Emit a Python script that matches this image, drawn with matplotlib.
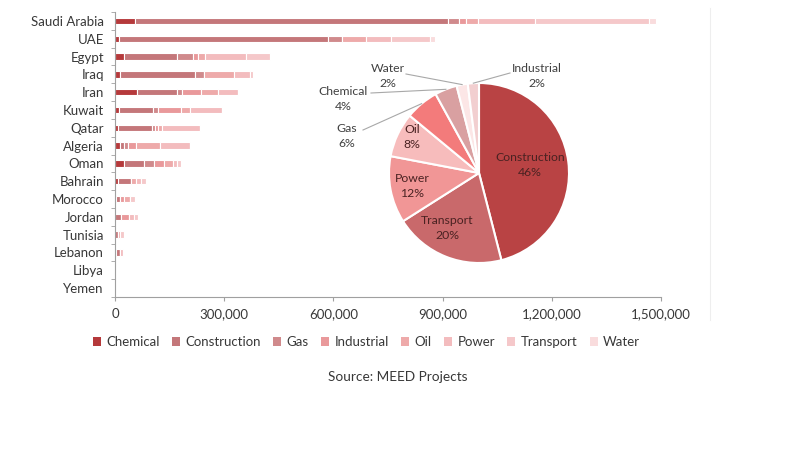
import numpy as np
import matplotlib.pyplot as plt
from matplotlib.patches import Patch
from matplotlib.lines import Line2D

plt.rcParams['font.family'] = ['Lato', 'DejaVu Sans']

countries = ['Saudi Arabia', 'UAE', 'Egypt', 'Iraq', 'Iran', 'Kuwait', 'Qatar', 'Algeria',
             'Oman', 'Bahrain', 'Morocco', 'Jordan', 'Tunisia', 'Lebanon', 'Libya', 'Yemen']
sectors = ['Chemical', 'Construction', 'Gas', 'Industrial', 'Oil', 'Power', 'Transport', 'Water']

# project values per sector
chemical     = [55000, 11000, 25000, 14000, 60000, 11000, 7000, 14000, 25000, 7000, 2000, 0, 0, 4000, 0, 0]
construction = [860000, 574000, 146000, 206000, 110000, 93000, 95000, 11000, 54000, 37000, 12000, 17000, 7000, 9000, 0, 0]
gas          = [30000, 38000, 44000, 25000, 14000, 14000, 8000, 11000, 27000, 0, 0, 0, 0, 0, 0, 0]
industrial   = [19000, 0, 14000, 0, 52000, 63000, 8000, 22000, 29000, 0, 12000, 21000, 0, 0, 0, 0]
oil          = [33000, 66000, 19000, 82000, 47000, 25000, 11000, 66000, 23000, 14000, 14000, 0, 7000, 0, 0, 0]
power        = [157000, 69000, 113000, 44000, 55000, 88000, 104000, 82000, 11000, 14000, 0, 14000, 0, 10000, 0, 0]
transport    = [313000, 107000, 66000, 8000, 0, 0, 0, 0, 11000, 12000, 16000, 10000, 11000, 0, 0, 0]
water        = [19000, 14000, 0, 0, 0, 0, 0, 0, 0, 0, 0, 0, 0, 0, 0, 0]
bar_colors = ['#b5393b', '#c4777a', '#d08a8c', '#e9999b', '#eeaaaa', '#f3bcbe', '#f5c8ca', '#f9dcdd']

pie_labels = ['Construction', 'Transport', 'Power', 'Oil', 'Gas', 'Chemical', 'Water', 'Industrial']
pie_shares = [46, 20, 12, 8, 6, 4, 2, 2]
pie_colors = ['#b94344', '#c9696b', '#f19696', '#f7bcbc', '#f37b7b', '#d9a0a1', '#fce6e6', '#f2cfd0']

xticks = [0, 300000, 600000, 900000, 1200000, 1500000]

fig = plt.figure(figsize=(8, 4.5), dpi=100)

# stacked bars
ax = fig.add_axes([0.14375, 0.34, 0.6825, 0.6333])
y = np.arange(len(countries))
left = np.zeros(len(countries))
for vals, col in zip([chemical, construction, gas, industrial, oil, power, transport, water], bar_colors):
    vals = np.array(vals, dtype=float)
    ax.barh(y, vals, left=left, height=0.36, color=col, edgecolor='white', linewidth=0.8)
    left += vals

ax.set_xlim(0, 1500000)
ax.set_ylim(len(countries) - 0.5, -0.5)
ax.set_yticks(y)
ax.set_yticklabels(countries)
ax.set_yticks(np.arange(-0.5, len(countries)), minor=True)
ax.set_xticks(xticks)
ax.set_xticklabels(['{:,}'.format(v) for v in xticks])
ax.tick_params(axis='y', which='major', length=0, pad=8, labelsize=9.5, labelcolor='#383838')
ax.tick_params(axis='y', which='minor', length=3, color='#a0a0a0')
ax.tick_params(axis='x', length=3, color='#a0a0a0', pad=5, labelsize=9.5, labelcolor='#383838')
for s in ['top', 'right']:
    ax.spines[s].set_visible(False)
for s in ['left', 'bottom']:
    ax.spines[s].set_color('#a0a0a0')
    ax.spines[s].set_linewidth(0.8)

# pie
pax = fig.add_axes([379 / 800, 1 - 273 / 450, 200 / 800, 200 / 450])
wedges, _ = pax.pie(pie_shares, colors=pie_colors, startangle=90, counterclock=False, radius=0.9,
                    wedgeprops=dict(edgecolor='white', linewidth=1.5))
pax.set_xlim(-1, 1)
pax.set_ylim(-1, 1)
pax.set_aspect('equal')
pax.axis('off')

inside_pos = {'Construction': (0.51, 0.08), 'Transport': (-0.32, -0.55),
              'Power': (-0.67, -0.13), 'Oil': (-0.67, 0.36)}
outside_pos = {'Gas': (-1.32, 0.37), 'Chemical': (-1.36, 0.74),
               'Water': (-0.91, 0.97), 'Industrial': (0.58, 0.97)}
line_start = {'Gas': (-1.16, 0.43), 'Chemical': (-1.08, 0.80),
              'Water': (-0.73, 0.99), 'Industrial': (0.31, 1.0)}

for w, lab, share in zip(wedges, pie_labels, pie_shares):
    txt = '{}\n{}%'.format(lab, share)
    if lab in inside_pos:
        pax.text(*inside_pos[lab], txt, ha='center', va='center', fontsize=8.8,
                 color='#4a2222', linespacing=1.45)
    else:
        pax.text(*outside_pos[lab], txt, ha='center', va='center', fontsize=8.8,
                 color='#404040', linespacing=1.45, clip_on=False)
        mid = np.deg2rad((w.theta1 + w.theta2) / 2)
        ex, ey = 0.9 * np.cos(mid), 0.9 * np.sin(mid)
        sx, sy = line_start[lab]
        pax.plot([sx, ex], [sy, ey], color='#a8a8a8', lw=0.8, clip_on=False)

# legend
handles = [Patch(facecolor=c, edgecolor='none') for c in bar_colors]
fig.legend(handles, sectors, loc='center', bbox_to_anchor=(0.458, 1 - 342 / 450), ncol=8,
           frameon=False, fontsize=9.5, handlelength=0.6, handleheight=0.6, handletextpad=0.4,
           columnspacing=0.95, labelcolor='#383838')

fig.text(0.4975, 1 - 377 / 450, 'Source: MEED Projects', ha='center', va='center',
         fontsize=9.8, color='#383838')

# faint chart border on the right
fig.add_artist(Line2D([710 / 800, 710 / 800], [1 - 8 / 450, 1 - 320 / 450], color='#eeeeee', lw=0.8))

fig.savefig('out.png', dpi=100, facecolor='white')
